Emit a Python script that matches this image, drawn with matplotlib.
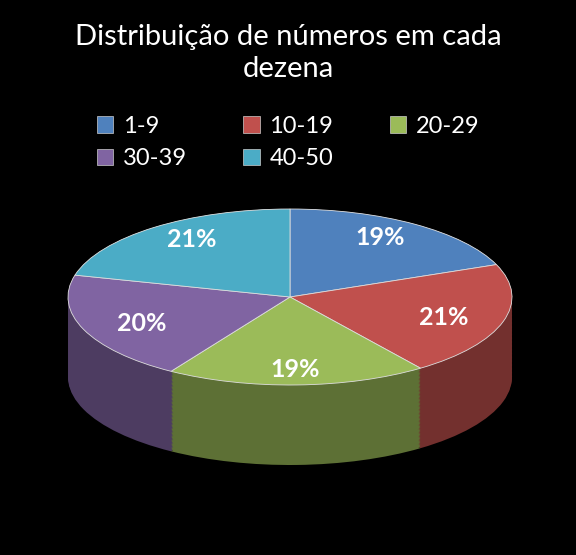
import numpy as np
import matplotlib.pyplot as plt
from matplotlib.patches import Wedge, Patch
import matplotlib.colors as mcolors

labels = ["1-9", "10-19", "20-29", "30-39", "40-50"]
values = [19, 21, 19, 20, 21]
colors = ["#4F81BD", "#C0504D", "#9BBB59", "#8064A2", "#4BACC6"]

plt.rcParams['font.family'] = ['Lato', 'DejaVu Sans']

fig = plt.figure(figsize=(5.76, 5.55), dpi=100, facecolor="black")
ax = fig.add_axes([0, 0, 1, 1])
ax.set_facecolor("black")
ax.axis("off")

# pixel geometry -> data units (radius 1 = 222 px wide, 88 px tall)
cx, cy, rx, ry = 290, 297, 222, 88
ax.set_xlim(-cx / rx, (576 - cx) / rx)
ax.set_ylim(-(555 - cy) / ry, cy / ry)
depth = 80 / ry

fracs = np.array(values) / sum(values)
ends = 90 - 360 * np.cumsum(fracs)
starts = np.concatenate([[90], ends[:-1]])

# side extrusion
for dy in np.linspace(-depth, 0, 60):
    for s, e, c in zip(starts, ends, colors):
        dark = np.array(mcolors.to_rgb(c)) * 0.6
        ax.add_patch(Wedge((0, dy), 1, e, s, facecolor=dark, edgecolor="none"))

# top face
for s, e, c in zip(starts, ends, colors):
    ax.add_patch(Wedge((0, 0), 1, e, s, facecolor=c, edgecolor="#dddddd", lw=0.6))

for s, e, v in zip(starts, ends, values):
    m = np.deg2rad((s + e) / 2)
    ax.text(0.72 * np.cos(m), 0.82 * np.sin(m), f"{v}%", color="white",
            fontsize=18, fontweight="bold", ha="center", va="center")

fig.text(0.5, 0.905, "Distribuição de números em cada\ndezena", color="white",
         fontsize=21, ha="center", va="center", linespacing=1.3)

# legend fills column-wise; reorder so it reads row-wise
order = [0, 3, 1, 4, 2]
handles = [Patch(facecolor=colors[i], edgecolor="#cccccc", lw=0.5) for i in order]
fig.legend(handles, [labels[i] for i in order], ncol=3, loc="upper center",
           bbox_to_anchor=(0.5, 0.83), frameon=False, labelcolor="white",
           fontsize=17, handlelength=0.7, handleheight=0.7, columnspacing=2.4,
           handletextpad=0.4)

fig.savefig("out.png", facecolor="black")
